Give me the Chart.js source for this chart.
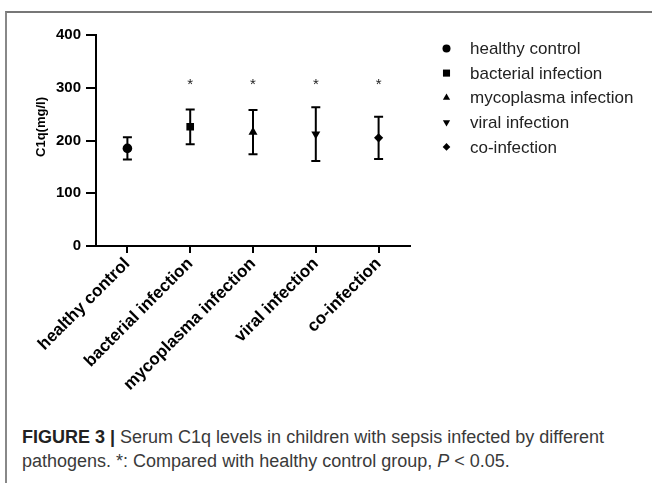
<!DOCTYPE html>
<html>
<head>
<meta charset="utf-8">
<script src="https://cdn.jsdelivr.net/npm/chart.js@4/dist/chart.umd.min.js"></script>
<style>
  html, body { margin: 0; padding: 0; background: #fff; }
  body { width: 652px; height: 483px; position: relative; overflow: hidden; font-family: "Liberation Sans", Arial, sans-serif; }
  #frame { position: absolute; left: 5px; top: 11px; right: -5px; bottom: -5px; border-top: 2px solid #777; border-left: 2px solid #888; }
  #chart { position: absolute; left: 0; top: 0; }
  #caption { position: absolute; left: 22px; top: 425px; font-size: 18px; line-height: 24px; color: #3a3a3a; white-space: nowrap; }
  #caption b { color: #222; }
</style>
</head>
<body>
<div id="frame"></div>
<canvas id="chart" width="652" height="410"></canvas>
<div id="caption"><b>FIGURE 3 |</b> Serum C1q levels in children with sepsis infected by different<br>pathogens. *: Compared with healthy control group, <i>P</i> &lt; 0.05.</div>
<script>
// Data
const groups = ['healthy control', 'bacterial infection', 'mycoplasma infection', 'viral infection', 'co-infection'];
const means = [185, 226, 216, 212, 205];
const sds = [21, 33, 42, 51, 40];
const marks = ['', '*', '*', '*', '*'];
const starLevel = 297;
const yMin = 0, yMax = 400, yStep = 100;

// Marker look for each group
const markerStyles = ['circle', 'rect', 'triangle', 'triangle', 'rectRot'];
const markerRotation = [0, 0, 0, 180, 0];
const markerRadius = [4.8, 5.4, 5.2, 5.2, 4.6];
const legendRadius = [4, 5, 4.2, 4.2, 3.8];

const FONT = '"Liberation Sans", Arial, sans-serif';

function drawMarker(ctx, style, radius, rotation, x, y) {
    if (Chart.helpers && Chart.helpers.drawPoint) {
        Chart.helpers.drawPoint(ctx, { pointStyle: style, radius: radius, rotation: rotation, borderWidth: 0 }, x, y);
    }
}

// Error bars (mean +/- SD) drawn under the markers
const errorBars = {
    id: 'errorBars',
    beforeDatasetsDraw(chart) {
        const { ctx, scales: { x, y } } = chart;
        ctx.save();
        ctx.strokeStyle = '#000';
        ctx.lineWidth = 2;
        groups.forEach((g, i) => {
            const px = x.getPixelForValue(i);
            const top = y.getPixelForValue(means[i] + sds[i]);
            const bot = y.getPixelForValue(means[i] - sds[i]);
            ctx.beginPath();
            ctx.moveTo(px, top); ctx.lineTo(px, bot);
            ctx.moveTo(px - 4.5, top); ctx.lineTo(px + 4.5, top);
            ctx.moveTo(px - 4.5, bot); ctx.lineTo(px + 4.5, bot);
            ctx.stroke();
        });
        ctx.restore();
    }
};

// Significance stars, y title and legend
const extras = {
    id: 'extras',
    afterDraw(chart) {
        const { ctx, scales: { x, y } } = chart;
        ctx.save();
        ctx.fillStyle = '#222';
        ctx.font = '15px ' + FONT;
        ctx.textAlign = 'center';
        ctx.textBaseline = 'alphabetic';
        marks.forEach((m, i) => {
            if (m) ctx.fillText(m, x.getPixelForValue(i), y.getPixelForValue(starLevel));
        });

        // y axis title
        ctx.fillStyle = '#000';
        ctx.font = 'bold 13px ' + FONT;
        ctx.translate(41, 127);
        ctx.rotate(-Math.PI / 2);
        ctx.textBaseline = 'middle';
        ctx.fillText('C1q(mg/l)', 0, 0);
        ctx.restore();

        // legend
        ctx.save();
        ctx.font = '17px ' + FONT;
        ctx.textAlign = 'left';
        ctx.textBaseline = 'middle';
        groups.forEach((g, i) => {
            const ly = 48.5 + i * 24.6;
            ctx.fillStyle = '#000';
            drawMarker(ctx, markerStyles[i], legendRadius[i], markerRotation[i], 446.5, ly);
            ctx.fillStyle = '#222';
            ctx.fillText(g, 470, ly + 1);
        });
        ctx.restore();
    }
};

const datasets = groups.map((g, i) => ({
    label: g,
    data: groups.map((_, j) => (j === i ? means[i] : null)),
    showLine: false,
    pointStyle: markerStyles[i],
    pointRotation: markerRotation[i],
    pointRadius: markerRadius[i],
    pointHoverRadius: markerRadius[i],
    pointBackgroundColor: '#000',
    pointBorderColor: '#000',
    pointBorderWidth: 0
}));

new Chart(document.getElementById('chart').getContext('2d'), {
    type: 'line',
    data: { labels: groups, datasets: datasets },
    options: {
        responsive: false,
        animation: false,
        devicePixelRatio: 1,
        layout: { padding: { top: 35, right: 242, left: 0, bottom: 0 } },
        plugins: { legend: { display: false }, tooltip: { enabled: false } },
        scales: {
            x: {
                offset: true,
                afterFit: s => { s.height = 164; },
                grid: { drawOnChartArea: false, offset: false, color: '#000', lineWidth: 2, tickLength: 7 },
                border: { display: true, color: '#000', width: 2 },
                ticks: {
                    color: '#000',
                    font: { family: FONT, size: 17, weight: 'bold' },
                    minRotation: 45, maxRotation: 45, autoSkip: false, padding: 1
                }
            },
            y: {
                min: yMin, max: yMax,
                afterFit: s => { s.width = 96; },
                grid: { drawOnChartArea: false, color: '#000', lineWidth: 2, tickLength: 10 },
                border: { display: true, color: '#000', width: 2 },
                ticks: {
                    stepSize: yStep,
                    color: '#000',
                    padding: 5,
                    font: { family: FONT, size: 15, weight: 'bold' }
                }
            }
        }
    },
    plugins: [errorBars, extras]
});
</script>
</body>
</html>
